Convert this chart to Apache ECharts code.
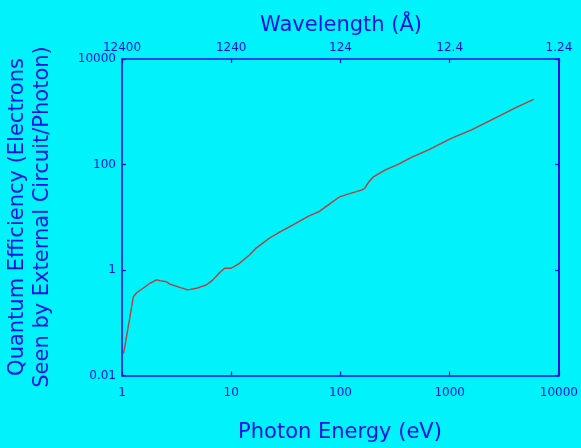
<!DOCTYPE html>
<html>
<head>
<meta charset="utf-8">
<script src="https://cdn.jsdelivr.net/npm/echarts@6/dist/echarts.min.js"></script>
<style>
html,body{margin:0;padding:0;background:#00f2fa;}
#c{width:581px;height:448px;}
</style>
</head>
<body>
<div id="c"></div>
<script>
// Photon energy (eV)
var energy = [1.03, 1.06, 1.14, 1.27, 1.36, 1.56, 1.8, 2.07, 2.22, 2.55, 2.74, 3.38, 4.02, 4.79, 5.9, 6.8, 7.8, 8.7, 10, 11.9, 14.7, 16.9, 22.3, 28, 36.4, 51.6, 63.7, 78.6, 97, 111, 158, 167, 182, 202, 258, 341, 451, 640, 847, 1045, 1586, 2415, 2980, 3945, 5920];
// Quantum efficiency (electrons / photon)
var qe = [0.026, 0.035, 0.084, 0.31, 0.37, 0.45, 0.56, 0.65, 0.63, 0.60, 0.54, 0.47, 0.42, 0.45, 0.52, 0.65, 0.89, 1.08, 1.08, 1.34, 1.93, 2.6, 4.0, 5.3, 7.1, 10.6, 12.8, 17.5, 24, 26.5, 33, 35.5, 47, 59, 79, 102, 138, 189, 253, 316, 454, 702, 872, 1170, 1740];
// Tick labels
var energyTicks = [1, 10, 100, 1000, 10000];
var energyLabels = ['1', '10', '100', '1000', '10000'];
var wavelengthLabels = ['12400', '1240', '124', '12.4', '1.24'];
var qeTicks = [0.01, 1, 100, 10000];
var qeLabels = ['0.01', '1', '100', '10000'];

var blue = '#1010e4';
var font = 'DejaVu Sans';

function idxOf(v, ticks) {
  var lv = Math.log10(v);
  for (var i = 0; i < ticks.length; i++) {
    if (Math.abs(Math.log10(ticks[i]) - lv) < 1e-6) return i;
  }
  return -1;
}

var data = energy.map(function (e, i) { return [e, qe[i]]; });

var chart = echarts.init(document.getElementById('c'), null, {renderer: 'canvas'});
var axisLineStyle = {color: blue, width: 1.6};
chart.setOption({
  backgroundColor: '#00f2fa',
  animation: false,
  grid: {left: 122, right: 20, top: 59, bottom: 72.5},
  xAxis: [{
    type: 'log', logBase: 10, min: 1, max: 10000, position: 'bottom',
    axisLine: {show: true, lineStyle: axisLineStyle},
    axisTick: {show: true, inside: true, length: 4, lineStyle: {color: blue, width: 1.2}},
    minorTick: {show: false},
    splitLine: {show: false},
    axisLabel: {color: blue, fontFamily: font, fontSize: 12, margin: 11,
      formatter: function (v) { var k = idxOf(v, energyTicks); return k < 0 ? '' : energyLabels[k]; }}
  }, {
    type: 'log', logBase: 10, min: 1, max: 10000, position: 'top',
    axisLine: {show: true, lineStyle: axisLineStyle},
    axisTick: {show: true, inside: true, length: 4, lineStyle: {color: blue, width: 1.2}},
    splitLine: {show: false},
    axisLabel: {color: blue, fontFamily: font, fontSize: 12, margin: 5,
      formatter: function (v) { var k = idxOf(v, energyTicks); return k < 0 ? '' : wavelengthLabels[k]; }}
  }],
  yAxis: [{
    type: 'log', logBase: 10, min: 0.01, max: 10000, interval: 2, position: 'left',
    axisLine: {show: true, lineStyle: axisLineStyle},
    axisTick: {show: true, inside: true, length: 4, lineStyle: {color: blue, width: 1.2}},
    splitLine: {show: false},
    axisLabel: {color: blue, fontFamily: font, fontSize: 12, margin: 6,
      formatter: function (v) { var k = idxOf(v, qeTicks); return k < 0 ? '' : qeLabels[k]; }}
  }, {
    type: 'log', logBase: 10, min: 0.01, max: 10000, interval: 2, position: 'right',
    axisLine: {show: true, lineStyle: {color: blue, width: 2}},
    axisTick: {show: true, inside: true, length: 4, lineStyle: {color: blue, width: 1.2}},
    splitLine: {show: false},
    axisLabel: {show: false}
  }],
  graphic: [{
    type: 'text', x: 341, y: 26,
    style: {text: 'Wavelength (Å)', fill: blue, font: '21px "' + font + '"', textAlign: 'center', textVerticalAlign: 'middle'}
  }, {
    type: 'text', x: 340, y: 433,
    style: {text: 'Photon Energy (eV)', fill: blue, font: '21px "' + font + '"', textAlign: 'center', textVerticalAlign: 'middle'}
  }, {
    type: 'text', x: 30, y: 217, rotation: Math.PI / 2,
    style: {text: 'Quantum Efficiency (Electrons\nSeen by External Circuit/Photon)', fill: blue,
      font: '21px "' + font + '"', lineHeight: 25, textAlign: 'center', textVerticalAlign: 'middle'}
  }],
  series: [{
    type: 'line', xAxisIndex: 0, yAxisIndex: 0, data: data,
    showSymbol: false, symbol: 'none',
    lineStyle: {color: '#b83c3c', width: 1.4}
  }]
});
</script>
</body>
</html>
